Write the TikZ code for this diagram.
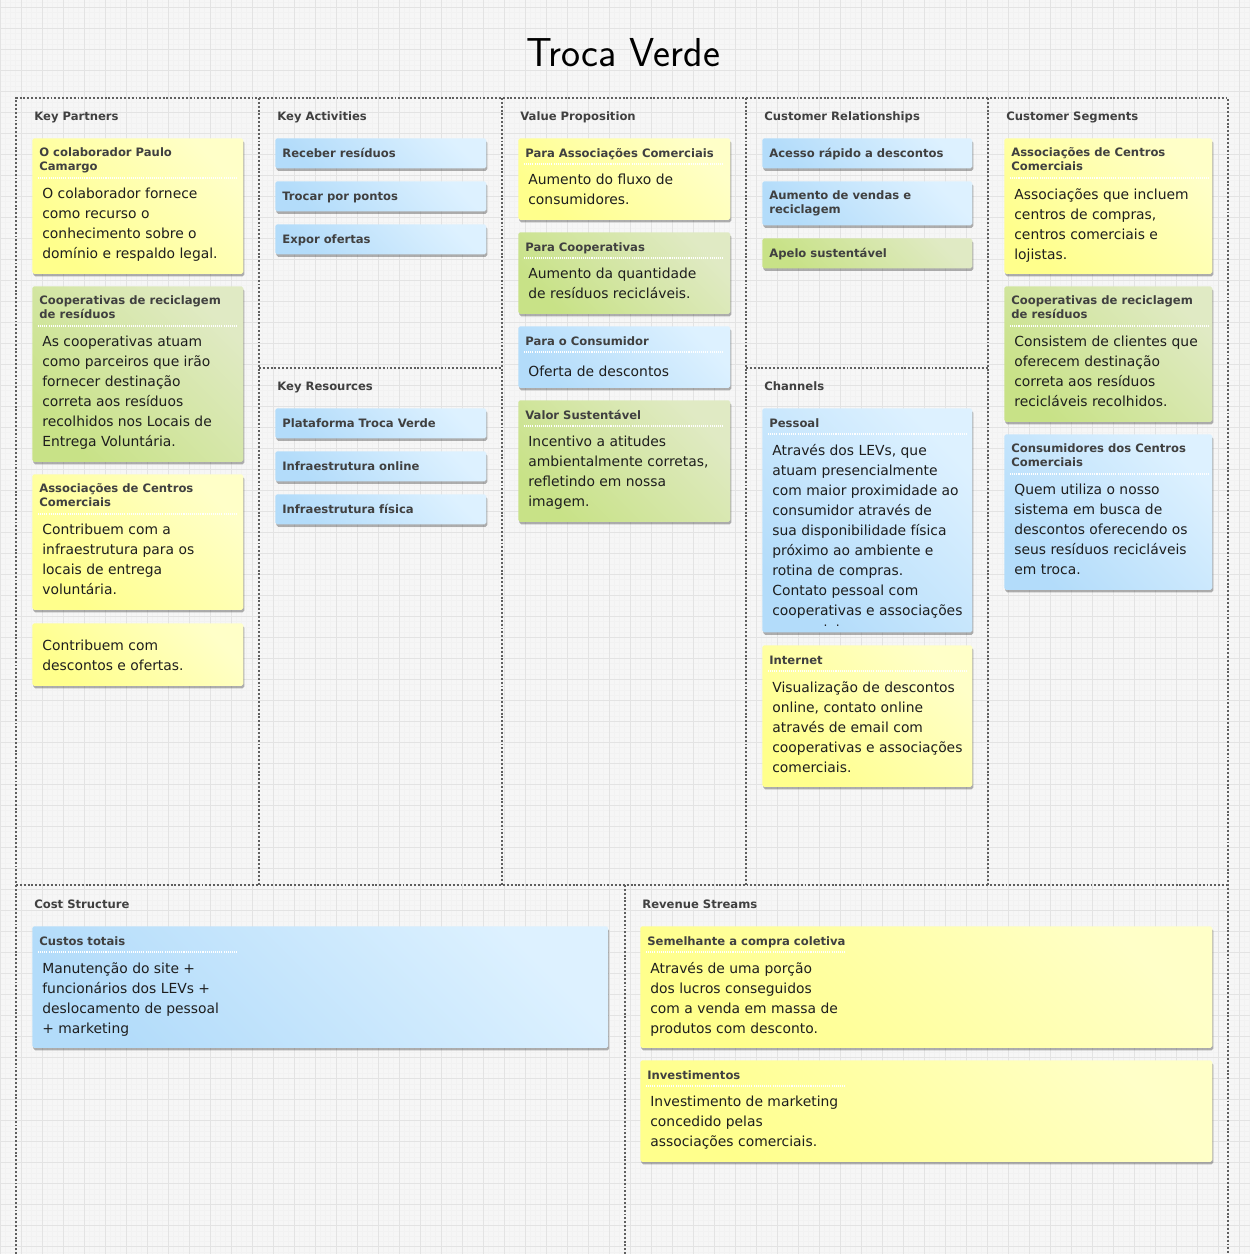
\documentclass[tikz,border=0pt]{standalone}
\usepackage{fontspec}
\setmainfont{DejaVu Sans}
\usepackage{tikz}
\usetikzlibrary{shadows, calc, positioning}

\definecolor{yelA}{HTML}{FFFF8C}
\definecolor{yelB}{HTML}{FFFFC8}
\definecolor{grnA}{HTML}{C8E287}
\definecolor{grnB}{HTML}{E0EAC4}
\definecolor{bluA}{HTML}{B3DCFA}
\definecolor{bluB}{HTML}{DDF1FF}
\definecolor{ink}{HTML}{1E1E1E}
\definecolor{ttlgray}{HTML}{404040}
\definecolor{dotline}{HTML}{5F5F5F}
\definecolor{paper}{HTML}{F6F6F6}

\begin{document}
\begin{tikzpicture}[x=0.02cm, y=-0.02cm]
        \tikzstyle{note} = [rectangle, rounded corners=1pt, anchor=north west, inner sep=0, drop shadow={shadow xshift=0.02cm, shadow yshift=-0.05cm, opacity=0.35, fill=black!85}]
        \tikzstyle{yel} = [note, bottom color=yelA, top color=yelB, shading angle=-45]
        \tikzstyle{grn} = [note, bottom color=grnA, top color=grnB, shading angle=-45]
        \tikzstyle{blu} = [note, bottom color=bluA, top color=bluB, shading angle=-45]
        \tikzstyle{ttl} = [anchor=north west, inner sep=0, align=left, text=ttlgray, font=\fontsize{6.6}{7.97}\selectfont\bfseries, execute at begin node=\strut]
        \tikzstyle{sec} = [anchor=base west, inner sep=0, text=ttlgray, font=\fontsize{6.6}{7.97}\selectfont\bfseries]
        \tikzstyle{body} = [anchor=north west, inner sep=0, align=left, text=ink, font=\fontsize{7.9}{11.38}\selectfont, execute at begin node=\strut]
        \tikzstyle{sep} = [white, line width=0.6pt, dash pattern=on 0.6pt off 0.6pt]
        \tikzstyle{divider} = [draw=dotline, line width=1.1pt, dash pattern=on 1.1pt off 1.1pt]
        \tikzstyle{hand} = [anchor=base, inner sep=0, font=\sffamily\fontsize{23}{23}\selectfont]

        % paper and grid
        \useasboundingbox (0,0) rectangle (1250,1254);
        \fill[paper] (0,0) rectangle (1250,1254);
        \foreach \i in {0,...,238} \draw[black!5, line width=0.3pt] (\i*5.25,0) -- (\i*5.25,1254);
        \foreach \i in {0,...,238} \draw[black!5, line width=0.3pt] (0,2.25+\i*5.25) -- (1250,2.25+\i*5.25);
        \foreach \i in {0,...,59} \draw[black!11, line width=0.5pt] (\i*21,0) -- (\i*21,1254);
        \foreach \i in {0,...,59} \draw[black!11, line width=0.5pt] (0,7.5+\i*21) -- (1250,7.5+\i*21);

        \node[hand] (title) at (623,66) {Troca Verde};

        % canvas blocks
        \draw[divider] (16,1254) -- (16,98) -- (1228,98) -- (1228,1254);
        \draw[divider] (16,885) -- (1228,885);
        \foreach \x in {259,502,746,988} \draw[divider] (\x,98) -- (\x,885);
        \draw[divider] (259,368) -- (502,368);
        \draw[divider] (746,368) -- (988,368);
        \draw[divider] (625,885) -- (625,1254);

        \node[sec] (kpsec) at (34,120) {Key Partners};
        \node[sec] (kasec) at (277,120) {Key Activities};
        \node[sec] (vpsec) at (520,120) {Value Proposition};
        \node[sec] (crsec) at (764,120) {Customer Relationships};
        \node[sec] (cssec) at (1006,120) {Customer Segments};
        \node[sec] (krsec) at (277,390) {Key Resources};
        \node[sec] (chsec) at (764,390) {Channels};
        \node[sec] (costsec) at (34,908) {Cost Structure};
        \node[sec] (revsec) at (642,908) {Revenue Streams};

        % Key Partners
        \node[yel, minimum width=4.22cm, minimum height=2.71cm] (kp1) at (32,138) {};
        \node[ttl] (kp1t) at ($(kp1.north west)+(7,9)$) {O colaborador Paulo\\Camargo};
        \draw[sep] ($(kp1.north west)+(6,40)$) -- ++(200,0);
        \node[body] (kp1b) at ($(kp1.north west)+(10,50)$) {O colaborador fornece\\como recurso o\\conhecimento sobre o\\domínio e respaldo legal.};

        \node[grn, minimum width=4.22cm, minimum height=3.51cm] (kp2) at (32,286) {};
        \node[ttl] (kp2t) at ($(kp2.north west)+(7,9)$) {Cooperativas de reciclagem\\de resíduos};
        \draw[sep] ($(kp2.north west)+(6,40)$) -- ++(200,0);
        \node[body] (kp2b) at ($(kp2.north west)+(10,50)$) {As cooperativas atuam\\como parceiros que irão\\fornecer destinação\\correta aos resíduos\\recolhidos nos Locais de\\Entrega Voluntária.};

        \node[yel, minimum width=4.22cm, minimum height=2.71cm] (kp3) at (32,474) {};
        \node[ttl] (kp3t) at ($(kp3.north west)+(7,9)$) {Associações de Centros\\Comerciais};
        \draw[sep] ($(kp3.north west)+(6,40)$) -- ++(200,0);
        \node[body] (kp3b) at ($(kp3.north west)+(10,50)$) {Contribuem com a\\infraestrutura para os\\locais de entrega\\voluntária.};

        \node[yel, minimum width=4.22cm, minimum height=1.25cm] (kp4) at (32,623) {};
        \node[body] (kp4b) at ($(kp4.north west)+(10,17)$) {Contribuem com\\descontos e ofertas.};

        % Key Activities
        \node[blu, minimum width=4.22cm, minimum height=0.6cm] (ka1) at (275,138) {};
        \node[ttl] (ka1t) at ($(ka1.north west)+(7,9)$) {Receber resíduos};
        \node[blu, minimum width=4.22cm, minimum height=0.6cm] (ka2) at (275,181) {};
        \node[ttl] (ka2t) at ($(ka2.north west)+(7,9)$) {Trocar por pontos};
        \node[blu, minimum width=4.22cm, minimum height=0.6cm] (ka3) at (275,224) {};
        \node[ttl] (ka3t) at ($(ka3.north west)+(7,9)$) {Expor ofertas};

        % Key Resources
        \node[blu, minimum width=4.22cm, minimum height=0.6cm] (kr1) at (275,408) {};
        \node[ttl] (kr1t) at ($(kr1.north west)+(7,9)$) {Plataforma Troca Verde};
        \node[blu, minimum width=4.22cm, minimum height=0.6cm] (kr2) at (275,451) {};
        \node[ttl] (kr2t) at ($(kr2.north west)+(7,9)$) {Infraestrutura online};
        \node[blu, minimum width=4.22cm, minimum height=0.6cm] (kr3) at (275,494) {};
        \node[ttl] (kr3t) at ($(kr3.north west)+(7,9)$) {Infraestrutura física};

        % Value Proposition
        \node[yel, minimum width=4.24cm, minimum height=1.63cm] (vp1) at (518,138) {};
        \node[ttl] (vp1t) at ($(vp1.north west)+(7,9)$) {Para Associações Comerciais};
        \draw[sep] ($(vp1.north west)+(6,26)$) -- ++(200,0);
        \node[body] (vp1b) at ($(vp1.north west)+(10,36)$) {Aumento do fluxo de\\consumidores.};

        \node[grn, minimum width=4.24cm, minimum height=1.63cm] (vp2) at (518,232) {};
        \node[ttl] (vp2t) at ($(vp2.north west)+(7,9)$) {Para Cooperativas};
        \draw[sep] ($(vp2.north west)+(6,26)$) -- ++(200,0);
        \node[body] (vp2b) at ($(vp2.north west)+(10,36)$) {Aumento da quantidade\\de resíduos recicláveis.};

        \node[blu, minimum width=4.24cm, minimum height=1.23cm] (vp3) at (518,326) {};
        \node[ttl] (vp3t) at ($(vp3.north west)+(7,9)$) {Para o Consumidor};
        \draw[sep] ($(vp3.north west)+(6,26)$) -- ++(200,0);
        \node[body] (vp3b) at ($(vp3.north west)+(10,36)$) {Oferta de descontos};

        \node[grn, minimum width=4.24cm, minimum height=2.43cm] (vp4) at (518,400) {};
        \node[ttl] (vp4t) at ($(vp4.north west)+(7,9)$) {Valor Sustentável};
        \draw[sep] ($(vp4.north west)+(6,26)$) -- ++(200,0);
        \node[body] (vp4b) at ($(vp4.north west)+(10,36)$) {Incentivo a atitudes\\ambientalmente corretas,\\refletindo em nossa\\imagem.};

        % Customer Relationships
        \node[blu, minimum width=4.2cm, minimum height=0.6cm] (cr1) at (762,138) {};
        \node[ttl] (cr1t) at ($(cr1.north west)+(7,9)$) {Acesso rápido a descontos};
        \node[blu, minimum width=4.2cm, minimum height=0.88cm] (cr2) at (762,181) {};
        \node[ttl] (cr2t) at ($(cr2.north west)+(7,9)$) {Aumento de vendas e\\reciclagem};
        \node[grn, minimum width=4.2cm, minimum height=0.6cm] (cr3) at (762,238) {};
        \node[ttl] (cr3t) at ($(cr3.north west)+(7,9)$) {Apelo sustentável};

        % Channels
        \node[blu, minimum width=4.2cm, minimum height=4.48cm] (ch1) at (762,408) {};
        \node[ttl] (ch1t) at ($(ch1.north west)+(7,9)$) {Pessoal};
        \draw[sep] ($(ch1.north west)+(6,26)$) -- ++(200,0);
        \begin{scope}
            \clip (ch1.north west) rectangle ($(ch1.north east)+(0,217)$);
            \node[body] (ch1b) at ($(ch1.north west)+(10,36)$) {Através dos LEVs, que\\atuam presencialmente\\com maior proximidade ao\\consumidor através de\\sua disponibilidade física\\próximo ao ambiente e\\rotina de compras.\\Contato pessoal com\\cooperativas e associações\\comerciais.};
        \end{scope}

        \node[yel, minimum width=4.2cm, minimum height=2.83cm] (ch2) at (762,645) {};
        \node[ttl] (ch2t) at ($(ch2.north west)+(7,9)$) {Internet};
        \draw[sep] ($(ch2.north west)+(6,26)$) -- ++(200,0);
        \node[body] (ch2b) at ($(ch2.north west)+(10,36)$) {Visualização de descontos\\online, contato online\\através de email com\\cooperativas e associações\\comerciais.};

        % Customer Segments
        \node[yel, minimum width=4.16cm, minimum height=2.71cm] (cs1) at (1004,138) {};
        \node[ttl] (cs1t) at ($(cs1.north west)+(7,9)$) {Associações de Centros\\Comerciais};
        \draw[sep] ($(cs1.north west)+(6,40)$) -- ++(200,0);
        \node[body] (cs1b) at ($(cs1.north west)+(10,50)$) {Associações que incluem\\centros de compras,\\centros comerciais e\\lojistas.};

        \node[grn, minimum width=4.16cm, minimum height=2.71cm] (cs2) at (1004,286) {};
        \node[ttl] (cs2t) at ($(cs2.north west)+(7,9)$) {Cooperativas de reciclagem\\de resíduos};
        \draw[sep] ($(cs2.north west)+(6,40)$) -- ++(200,0);
        \node[body] (cs2b) at ($(cs2.north west)+(10,50)$) {Consistem de clientes que\\oferecem destinação\\correta aos resíduos\\recicláveis recolhidos.};

        \node[blu, minimum width=4.16cm, minimum height=3.11cm] (cs3) at (1004,434) {};
        \node[ttl] (cs3t) at ($(cs3.north west)+(7,9)$) {Consumidores dos Centros\\Comerciais};
        \draw[sep] ($(cs3.north west)+(6,40)$) -- ++(200,0);
        \node[body] (cs3b) at ($(cs3.north west)+(10,50)$) {Quem utiliza o nosso\\sistema em busca de\\descontos oferecendo os\\seus resíduos recicláveis\\em troca.};

        % Cost Structure
        \node[blu, minimum width=11.52cm, minimum height=2.43cm] (co1) at (32,926) {};
        \node[ttl] (co1t) at ($(co1.north west)+(7,9)$) {Custos totais};
        \draw[sep] ($(co1.north west)+(6,26)$) -- ++(200,0);
        \node[body] (co1b) at ($(co1.north west)+(10,36)$) {Manutenção do site +\\funcionários dos LEVs +\\deslocamento de pessoal\\+ marketing};

        % Revenue Streams
        \node[yel, minimum width=11.44cm, minimum height=2.43cm] (rv1) at (640,926) {};
        \node[ttl] (rv1t) at ($(rv1.north west)+(7,9)$) {Semelhante a compra coletiva};
        \draw[sep] ($(rv1.north west)+(6,26)$) -- ++(200,0);
        \node[body] (rv1b) at ($(rv1.north west)+(10,36)$) {Através de uma porção\\dos lucros conseguidos\\com a venda em massa de\\produtos com desconto.};

        \node[yel, minimum width=11.44cm, minimum height=2.03cm] (rv2) at (640,1060) {};
        \node[ttl] (rv2t) at ($(rv2.north west)+(7,9)$) {Investimentos};
        \draw[sep] ($(rv2.north west)+(6,26)$) -- ++(200,0);
        \node[body] (rv2b) at ($(rv2.north west)+(10,36)$) {Investimento de marketing\\concedido pelas\\associações comerciais.};
    \end{tikzpicture}
\end{document}
